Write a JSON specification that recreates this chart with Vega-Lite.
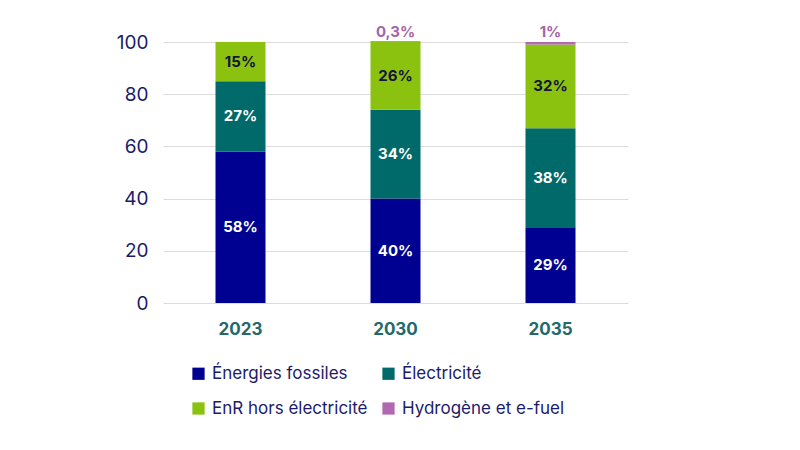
{
  "$schema": "https://vega.github.io/schema/vega-lite/v6.json",
  "autosize": "none",
  "width": 465,
  "height": 261,
  "padding": {"left": 163, "top": 42, "right": 172, "bottom": 147},
  "background": "white",
  "config": {
    "view": {"stroke": null},
    "font": "Inter",
    "axis": {"labelFont": "Inter", "titleFont": "Inter"},
    "legend": {"labelFont": "Inter"}
  },
  "data": {
    "values": [
      {"year": "2023", "cat": "Énergies fossiles", "k": 1, "v": 58, "label": "58%"},
      {"year": "2023", "cat": "Électricité", "k": 2, "v": 27, "label": "27%"},
      {"year": "2023", "cat": "EnR hors électricité", "k": 3, "v": 15, "label": "15%"},
      {"year": "2030", "cat": "Énergies fossiles", "k": 1, "v": 40, "label": "40%"},
      {"year": "2030", "cat": "Électricité", "k": 2, "v": 34, "label": "34%"},
      {"year": "2030", "cat": "EnR hors électricité", "k": 3, "v": 26, "label": "26%"},
      {"year": "2030", "cat": "Hydrogène et e-fuel", "k": 4, "v": 0.3, "label": "0,3%"},
      {"year": "2035", "cat": "Énergies fossiles", "k": 1, "v": 29, "label": "29%"},
      {"year": "2035", "cat": "Électricité", "k": 2, "v": 38, "label": "38%"},
      {"year": "2035", "cat": "EnR hors électricité", "k": 3, "v": 32, "label": "32%"},
      {"year": "2035", "cat": "Hydrogène et e-fuel", "k": 4, "v": 1, "label": "1%"}
    ]
  },
  "encoding": {
    "x": {
      "field": "year", "type": "nominal",
      "scale": {"paddingInner": 0, "paddingOuter": 0},
      "axis": {"title": null, "labelAngle": 0, "domain": false, "ticks": false,
        "labelFontSize": 17, "labelFontWeight": "bold", "labelColor": "#22696b", "labelPadding": 18}
    }
  },
  "layer": [
    {
      "mark": {"type": "bar", "width": 50},
      "encoding": {
        "y": {
          "field": "v", "type": "quantitative", "stack": "zero",
          "scale": {"domain": [0, 100], "nice": false},
          "axis": {"title": null, "values": [0, 20, 40, 60, 80, 100], "domain": false, "ticks": false,
            "labelFontSize": 19, "labelColor": "#1b1b6b", "labelPadding": 15,
            "gridColor": "#dcdcdc", "gridWidth": 1}
        },
        "order": {"field": "k"},
        "color": {
          "field": "cat", "type": "nominal",
          "scale": {
            "domain": ["Énergies fossiles", "Électricité", "EnR hors électricité", "Hydrogène et e-fuel"],
            "range": ["#000091", "#006a6a", "#8bc10f", "#b068b0"]
          },
          "legend": {
            "title": null, "orient": "none", "legendX": 27, "legendY": 323,
            "columns": 2, "direction": "horizontal", "symbolType": "square", "symbolSize": 150,
            "symbolStrokeWidth": 0, "labelFontSize": 17, "labelColor": "#1b1b6b", "labelLimit": 400,
            "columnPadding": 12, "rowPadding": 17, "labelOffset": 5
          }
        }
      }
    },
    {
      "transform": [{"filter": "datum.cat !== 'Hydrogène et e-fuel'"}],
      "mark": {"type": "text", "fontSize": 15, "fontWeight": "bold"},
      "encoding": {
        "y": {"field": "v", "type": "quantitative", "stack": "zero", "bandPosition": 0.5},
        "order": {"field": "k"},
        "text": {"field": "label"},
        "color": {
          "condition": {"test": "datum.cat === 'EnR hors électricité'", "value": "#14143c"},
          "value": "white"
        }
      }
    },
    {
      "transform": [{"filter": "datum.cat === 'Hydrogène et e-fuel'"}],
      "mark": {"type": "text", "fontSize": 15, "fontWeight": "bold", "baseline": "bottom", "dy": -2, "color": "#a565a8"},
      "encoding": {
        "y": {"datum": 100},
        "text": {"field": "label"}
      }
    }
  ]
}
